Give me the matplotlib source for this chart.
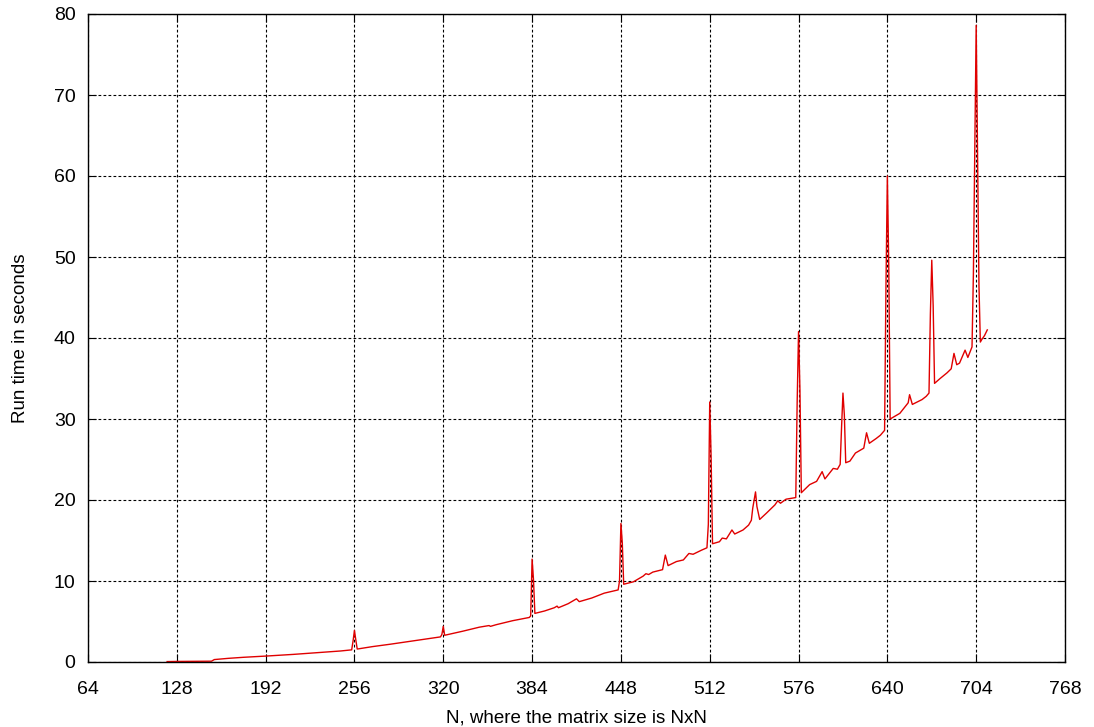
import matplotlib
matplotlib.use("Agg")
import matplotlib.pyplot as plt

n_values = [
    121, 128, 140, 153, 155, 165, 176, 193, 212, 229, 246, 254, 255, 256, 257, 258,
    269, 282, 294, 306, 318, 319, 320, 321, 334, 346, 353, 354, 358, 370, 382,
    383, 384, 385, 386, 393, 400, 402, 403, 410, 416, 418, 427, 436, 441, 446,
    447, 448, 449, 450, 457, 464, 466, 468, 471, 478, 480, 482, 488, 493, 497,
    500, 506, 510, 511, 512, 513, 514, 519, 521, 524, 528, 530, 536, 540, 542,
    543, 545, 546, 548, 553, 559, 561, 563, 567, 574, 575, 576, 577, 578, 584,
    589, 593, 595, 601, 604, 606, 607, 608, 609, 610, 613, 617, 623, 625, 627,
    632, 635, 638, 639, 640, 641, 642, 649, 655, 656, 658, 665, 668, 670, 671,
    672, 673, 674, 678, 683, 686, 688, 690, 692, 696, 698, 701, 702, 703, 704,
    705, 706, 707, 708, 710, 712,
]
run_time = [
    0.05, 0.07, 0.09, 0.10, 0.30, 0.45, 0.58, 0.74, 0.94, 1.15, 1.36, 1.50, 2.6, 3.9, 2.7, 1.6,
    1.9, 2.2, 2.5, 2.8, 3.1, 3.4, 4.4, 3.3, 3.8, 4.3, 4.5, 4.4, 4.6, 5.1, 5.5,
    5.7, 12.7, 10.2, 6.0, 6.3, 6.7, 6.9, 6.7, 7.2, 7.8, 7.45, 7.9, 8.5, 8.7, 8.9,
    10.0, 17.1, 14.7, 9.6, 9.9, 10.6, 10.9, 10.8, 11.1, 11.4, 13.2, 11.9, 12.4, 12.6, 13.4,
    13.3, 13.8, 14.1, 17.0, 32.1, 25.3, 14.6, 14.85, 15.3, 15.2, 16.3, 15.8, 16.3, 16.9, 17.5,
    19.0, 21.0, 19.2, 17.6, 18.4, 19.4, 19.9, 19.6, 20.1, 20.3, 32.0, 40.8, 33.6, 20.9, 21.9,
    22.3, 23.5, 22.6, 23.9, 23.8, 24.4, 29.0, 33.2, 30.5, 24.6, 24.8, 25.8, 26.4, 28.3, 27.0,
    27.6, 28.0, 28.6, 46.5, 60.0, 49.0, 30.0, 30.7, 32.0, 33.0, 31.8, 32.4, 32.8, 33.2, 43.0,
    49.6, 44.0, 34.4, 35.0, 35.7, 36.2, 38.1, 36.7, 36.9, 38.5, 37.6, 38.9, 48.0, 63.6, 78.6,
    62.0, 46.5, 39.5, 39.8, 40.3, 41.0,
]

x_ticks = [64, 128, 192, 256, 320, 384, 448, 512, 576, 640, 704, 768]
y_ticks = [0, 10, 20, 30, 40, 50, 60, 70, 80]

plt.rcParams['font.family'] = ['Liberation Sans', 'DejaVu Sans']

fig = plt.figure(figsize=(10.94, 7.27), dpi=100)
ax = fig.add_axes([88 / 1094, 1 - 662 / 727, (1065 - 88) / 1094, (662 - 14) / 727])

ax.plot(n_values, run_time, color='#e00000', linewidth=1.0)

ax.set_xlim(64, 768)
ax.set_ylim(0, 80)
ax.set_xticks(x_ticks)
ax.set_yticks(y_ticks)
ax.grid(True, color='black', linestyle=(0, (2.5, 2)), linewidth=0.8)
ax.tick_params(axis='both', direction='in', length=6, width=0.8, labelsize=14,
               top=True, right=True)
ax.tick_params(axis='x', pad=14)
ax.tick_params(axis='y', pad=9)
for s in ax.spines.values():
    s.set_linewidth(1.0)
    s.set_color('black')

ax.set_xlabel('N, where the matrix size is NxN', fontsize=13.5, labelpad=8)
ax.set_ylabel('Run time in seconds', fontsize=13.5, labelpad=18)

fig.savefig('out.png', dpi=100)
